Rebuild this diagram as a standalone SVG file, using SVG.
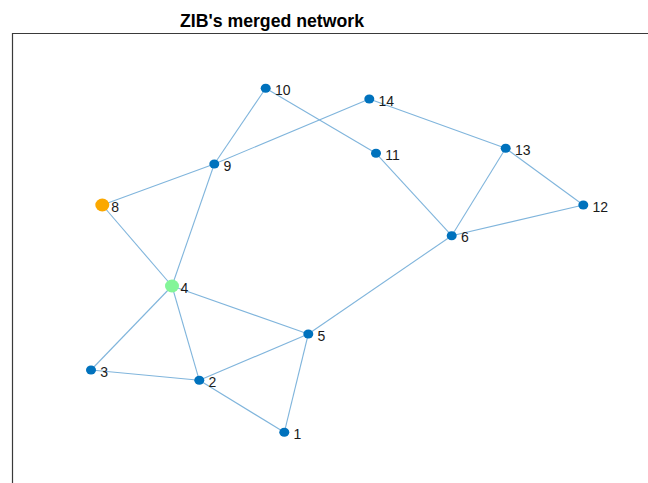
<svg xmlns="http://www.w3.org/2000/svg" width="648" height="483" viewBox="0 0 648 483">
  <style>
    .axis { fill: none; stroke: #3a3a3a; stroke-width: 1.2; }
    .title { font-family: "Liberation Sans", Arial, sans-serif; font-size: 17.7px; font-weight: bold; fill: #000; text-anchor: middle; }
    .edge { stroke: #80b5dc; stroke-width: 1.1; fill: none; }
    .node { fill: #0072bd; }
    .lbl { font-family: "Liberation Sans", Arial, sans-serif; font-size: 14px; fill: #1a1a1a; }
  </style>
  <rect width="648" height="483" fill="#ffffff"/>
  <text class="title" x="272" y="27">ZIB's merged network</text>
  <path class="axis" d="M12.5,483 V33.5 H648"/>

  <g id="edges">
    <line class="edge" x1="284.3" y1="432.3" x2="199.3" y2="380.3"/>
    <line class="edge" x1="284.3" y1="432.3" x2="308.3" y2="334"/>
    <line class="edge" x1="199.3" y1="380.3" x2="91" y2="370"/>
    <line class="edge" x1="199.3" y1="380.3" x2="172" y2="286"/>
    <line class="edge" x1="199.3" y1="380.3" x2="308.3" y2="334"/>
    <line class="edge" x1="91" y1="370" x2="172" y2="286"/>
    <line class="edge" x1="172" y1="286" x2="308.3" y2="334"/>
    <line class="edge" x1="172" y1="286" x2="102.3" y2="205"/>
    <line class="edge" x1="172" y1="286" x2="214.3" y2="164"/>
    <line class="edge" x1="308.3" y1="334" x2="451.7" y2="235.7"/>
    <line class="edge" x1="451.7" y1="235.7" x2="376" y2="153.3"/>
    <line class="edge" x1="451.7" y1="235.7" x2="583.3" y2="205"/>
    <line class="edge" x1="451.7" y1="235.7" x2="505.7" y2="148.3"/>
    <line class="edge" x1="102.3" y1="205" x2="214.3" y2="164"/>
    <line class="edge" x1="214.3" y1="164" x2="265.7" y2="88.3"/>
    <line class="edge" x1="214.3" y1="164" x2="369.3" y2="99"/>
    <line class="edge" x1="265.7" y1="88.3" x2="376" y2="153.3"/>
    <line class="edge" x1="583.3" y1="205" x2="505.7" y2="148.3"/>
    <line class="edge" x1="505.7" y1="148.3" x2="369.3" y2="99"/>
  </g>

  <g id="node1"><ellipse class="node" cx="284.3" cy="432.3" rx="5" ry="4.5"/><text class="lbl" x="293.5" y="439">1</text></g>
  <g id="node2"><ellipse class="node" cx="199.3" cy="380.3" rx="5" ry="4.5"/><text class="lbl" x="208.5" y="387">2</text></g>
  <g id="node3"><ellipse class="node" cx="91" cy="370" rx="5" ry="4.5"/><text class="lbl" x="100.2" y="376.7">3</text></g>
  <g id="node4"><ellipse cx="172" cy="286" rx="7" ry="6.5" fill="#84f598"/><text class="lbl" x="180.5" y="292.7">4</text></g>
  <g id="node5"><ellipse class="node" cx="308.3" cy="334" rx="5" ry="4.5"/><text class="lbl" x="317.5" y="340.7">5</text></g>
  <g id="node6"><ellipse class="node" cx="451.7" cy="235.7" rx="5" ry="4.5"/><text class="lbl" x="460.9" y="242.4">6</text></g>
  <g id="node8"><ellipse cx="102.3" cy="205" rx="7" ry="6.5" fill="#fba800"/><text class="lbl" x="111.3" y="211.7">8</text></g>
  <g id="node9"><ellipse class="node" cx="214.3" cy="164" rx="5" ry="4.5"/><text class="lbl" x="223.5" y="170.7">9</text></g>
  <g id="node10"><ellipse class="node" cx="265.7" cy="88.3" rx="5" ry="4.5"/><text class="lbl" x="274.9" y="95">10</text></g>
  <g id="node11"><ellipse class="node" cx="376" cy="153.3" rx="5" ry="4.5"/><text class="lbl" x="385.2" y="160">11</text></g>
  <g id="node12"><ellipse class="node" cx="583.3" cy="205" rx="5" ry="4.5"/><text class="lbl" x="592.5" y="211.7">12</text></g>
  <g id="node13"><ellipse class="node" cx="505.7" cy="148.3" rx="5" ry="4.5"/><text class="lbl" x="514.9" y="155">13</text></g>
  <g id="node14"><ellipse class="node" cx="369.3" cy="99" rx="5" ry="4.5"/><text class="lbl" x="378.5" y="105.7">14</text></g>
</svg>
